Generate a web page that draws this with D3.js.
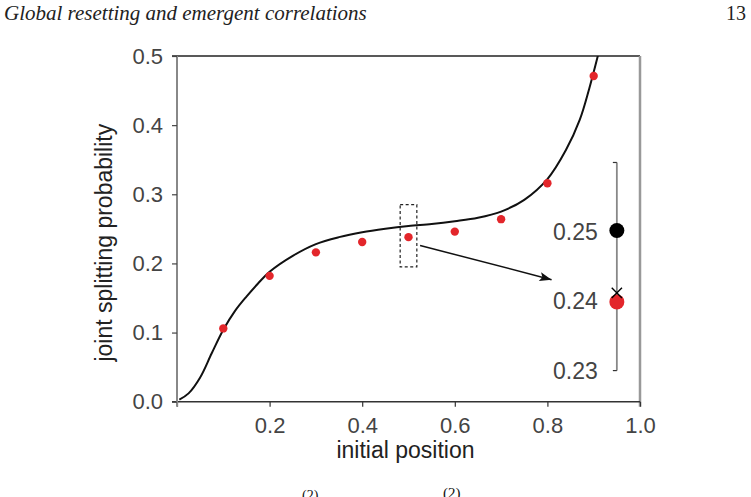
<!DOCTYPE html>
<html>
<head>
<meta charset="utf-8">
<script src="https://cdn.jsdelivr.net/npm/d3@7"></script>
<style>
  body { margin: 0; background: #fff; }
  svg { display: block; }
  .tick text { font-family: "Liberation Sans", Arial, sans-serif; fill: #444; }
</style>
</head>
<body>
<div id="chart"></div>
<script>
// page header
var headerTitle = "Global resetting and emergent correlations";
var pageNumber = "13";

// simulated joint splitting probability (red dots)
var simX = [0.1, 0.2, 0.3, 0.4, 0.5, 0.6, 0.7, 0.8, 0.9];
var simY = [0.106, 0.182, 0.216, 0.231, 0.238, 0.246, 0.264, 0.316, 0.471];

// theory curve
var curveX = [0.005, 0.025, 0.05, 0.075, 0.1, 0.125, 0.15, 0.175, 0.2, 0.25, 0.3, 0.35, 0.4, 0.45, 0.5, 0.55, 0.6, 0.65, 0.7, 0.75, 0.8, 0.84, 0.87, 0.89, 0.91];
var curveY = [0.003, 0.012, 0.035, 0.070, 0.104, 0.131, 0.152, 0.171, 0.188, 0.211, 0.228, 0.238, 0.245, 0.250, 0.254, 0.257, 0.261, 0.266, 0.275, 0.292, 0.322, 0.364, 0.408, 0.452, 0.503];

// axis ticks
var xTicks = [0, 0.2, 0.4, 0.6, 0.8, 1.0];
var yTicks = [0, 0.1, 0.2, 0.3, 0.4, 0.5];

// zoomed view at x0 = 0.5
var zoomBox = {x0: 0.482, x1: 0.518, y0: 0.195, y1: 0.285};
var arrowFrom = [0.525, 0.226], arrowTo = [0.809, 0.1765];
var insetX = 0.95;
var insetDomain = [0.23, 0.26];
var insetSpan = [0.045, 0.346];   // where the inset sits, in main y units
var insetLabels = [0.23, 0.24, 0.25];
var insetTheory = 0.2502, insetSim = 0.2399, insetCross = 0.2412;

var W = 751, H = 497;
var margin = {top: 56, left: 177},
    width = 463,
    height = 345.7;

var svg = d3.select("#chart").append("svg")
    .attr("width", W)
    .attr("height", H);

// header
svg.append("text")
    .attr("x", 4).attr("y", 20)
    .style("font-family", "'Liberation Serif', serif")
    .style("font-style", "italic")
    .style("font-size", "21px")
    .style("fill", "#222")
    .text(headerTitle);
svg.append("text")
    .attr("x", 746).attr("y", 20)
    .attr("text-anchor", "end")
    .style("font-family", "'Liberation Serif', serif")
    .style("font-size", "20px")
    .style("fill", "#222")
    .text(pageNumber);

var g = svg.append("g")
    .attr("transform", "translate(" + margin.left + "," + margin.top + ")");

var x = d3.scaleLinear().domain([0, 1]).range([0, width]);
var y = d3.scaleLinear().domain([0, 0.5]).range([height, 0]);

// frame: top dark, right gray
g.append("line")
    .attr("x1", -5).attr("x2", x(1))
    .attr("y1", y(0.5)).attr("y2", y(0.5))
    .style("stroke", "#222").style("stroke-width", 1.5);
g.append("line")
    .attr("x1", x(1)).attr("x2", x(1))
    .attr("y1", y(0.5)).attr("y2", y(0) + 5)
    .style("stroke", "#999").style("stroke-width", 2.5);

// x axis
var xAxis = g.append("g")
    .attr("transform", "translate(0," + height + ")")
    .call(d3.axisBottom(x).tickValues(xTicks).tickSize(5).tickSizeOuter(0)
        .tickFormat(function(d) { return d === 0 ? "" : d3.format(".1f")(d); }));
xAxis.select(".domain").style("stroke", "#333").style("stroke-width", 1.5)
    .attr("d", "M-5,0H" + width);
xAxis.selectAll(".tick line").style("stroke", "#333").style("stroke-width", 1.2);
xAxis.selectAll(".tick text").style("font-size", "22px").attr("dy", "1.05em");

// y axis
var yAxis = g.append("g")
    .call(d3.axisLeft(y).tickValues(yTicks).tickSize(5).tickSizeOuter(0)
        .tickFormat(d3.format(".1f")));
yAxis.select(".domain").style("stroke", "#888").style("stroke-width", 2)
    .attr("d", "M0,0V" + (height + 5));
yAxis.selectAll(".tick line").style("stroke", "#444").style("stroke-width", 1.2);
yAxis.selectAll(".tick text").style("font-size", "22px").attr("x", -14);

// axis titles
svg.append("text")
    .attr("x", margin.left + x(0.5) - 3)
    .attr("y", 458)
    .attr("text-anchor", "middle")
    .style("font-family", "'Liberation Sans', Arial, sans-serif")
    .style("font-size", "23px")
    .style("fill", "#222")
    .text("initial position");
svg.append("text")
    .attr("transform", "translate(112," + (margin.top + height * 0.54) + ") rotate(-90)")
    .attr("text-anchor", "middle")
    .style("font-family", "'Liberation Sans', Arial, sans-serif")
    .style("font-size", "23px")
    .style("fill", "#222")
    .text("joint splitting probability");

// clip for the theory curve
svg.append("defs").append("clipPath").attr("id", "plotclip")
  .append("rect").attr("x", 0).attr("y", y(0.5)).attr("width", width).attr("height", height);

var curveData = curveX.map(function(d, i) { return [d, curveY[i]]; });
g.append("path")
    .datum(curveData)
    .attr("clip-path", "url(#plotclip)")
    .attr("fill", "none")
    .attr("stroke", "#111")
    .attr("stroke-width", 2)
    .attr("d", d3.line()
        .curve(d3.curveCatmullRom)
        .x(function(d) { return x(d[0]); })
        .y(function(d) { return y(d[1]); }));

// simulation dots
g.selectAll(".sim")
    .data(simX.map(function(d, i) { return [d, simY[i]]; }))
  .enter().append("circle")
    .attr("class", "sim")
    .attr("cx", function(d) { return x(d[0]); })
    .attr("cy", function(d) { return y(d[1]); })
    .attr("r", 4.2)
    .style("fill", "#e3262b");

// dashed box
g.append("rect")
    .attr("x", x(zoomBox.x0))
    .attr("y", y(zoomBox.y1))
    .attr("width", x(zoomBox.x1) - x(zoomBox.x0))
    .attr("height", y(zoomBox.y0) - y(zoomBox.y1))
    .style("fill", "none")
    .style("stroke", "#222")
    .style("stroke-width", 1.2)
    .style("stroke-dasharray", "3,2.5");

// arrow
svg.select("defs").append("marker")
    .attr("id", "arrowhead")
    .attr("viewBox", "0 -5 12 10")
    .attr("refX", 12).attr("refY", 0)
    .attr("markerUnits", "userSpaceOnUse")
    .attr("markerWidth", 13).attr("markerHeight", 10)
    .attr("orient", "auto")
  .append("path")
    .attr("d", "M0,-4.5L12,0L0,4.5L2.5,0Z")
    .style("fill", "#111");
g.append("line")
    .attr("x1", x(arrowFrom[0])).attr("y1", y(arrowFrom[1]))
    .attr("x2", x(arrowTo[0])).attr("y2", y(arrowTo[1]))
    .style("stroke", "#111")
    .style("stroke-width", 1.5)
    .attr("marker-end", "url(#arrowhead)");

// inset axis
var yi = d3.scaleLinear().domain(insetDomain).range([y(insetSpan[0]), y(insetSpan[1])]);
var ix = x(insetX);
g.append("line")
    .attr("x1", ix).attr("x2", ix)
    .attr("y1", yi(insetDomain[0])).attr("y2", yi(insetDomain[1]))
    .style("stroke", "#888").style("stroke-width", 1.8);
g.selectAll(".itick")
    .data(insetDomain)
  .enter().append("line")
    .attr("class", "itick")
    .attr("x1", ix - 4).attr("x2", ix)
    .attr("y1", function(d) { return yi(d); })
    .attr("y2", function(d) { return yi(d); })
    .style("stroke", "#333").style("stroke-width", 1.2);
g.selectAll(".ilabel")
    .data(insetLabels)
  .enter().append("text")
    .attr("class", "ilabel")
    .attr("x", ix - 19)
    .attr("y", function(d) { return yi(d); })
    .attr("dy", "0.36em")
    .attr("text-anchor", "end")
    .style("font-family", "'Liberation Sans', Arial, sans-serif")
    .style("font-size", "23px")
    .style("fill", "#444")
    .text(function(d) { return d3.format(".2f")(d); });

g.append("circle")
    .attr("cx", ix).attr("cy", yi(insetTheory)).attr("r", 7.5)
    .style("fill", "#000");
g.append("circle")
    .attr("cx", ix).attr("cy", yi(insetSim)).attr("r", 7.5)
    .style("fill", "#e3262b");
g.append("path")
    .attr("transform", "translate(" + ix + "," + yi(insetCross) + ")")
    .attr("d", d3.symbol().type(d3.symbolX).size(70))
    .style("fill", "none")
    .style("stroke", "#000")
    .style("stroke-width", 1.4);

// caption below the figure, cut by the page edge (only superscripts show)
var caption = svg.append("text")
    .attr("y", 516)
    .style("font-family", "'Liberation Serif', serif")
    .style("font-size", "17px")
    .style("fill", "#111");
caption.append("tspan").attr("x", 290).text("P");
caption.append("tspan").attr("x", 302).attr("dy", -16).style("font-size", "14px").text("(2)");
caption.append("tspan").attr("dy", 16).text(" (x0) and ");
caption.append("tspan").attr("x", 430).text("P");
caption.append("tspan").attr("x", 443).attr("dy", -18).style("font-size", "15px").text("(2)");
caption.append("tspan").attr("dy", 18).text(" (x0) are");
</script>
</body>
</html>
